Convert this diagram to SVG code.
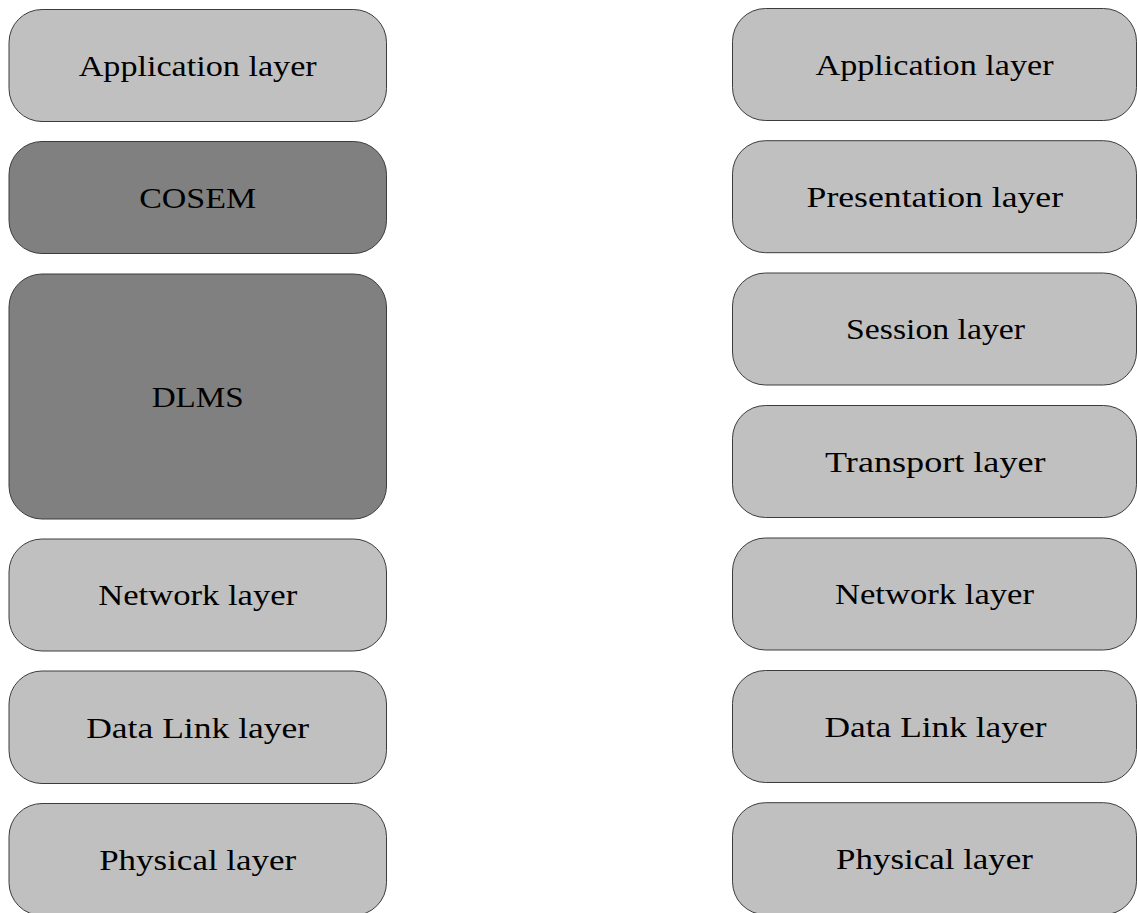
<svg xmlns="http://www.w3.org/2000/svg" width="1137" height="913" viewBox="0 0 1137 913">
  <style>
    .box { stroke: #3c3c3c; stroke-width: 1; }
    .light { fill: #c0c0c0; }
    .dark { fill: #808080; }
    .label { font-family: "Liberation Serif", "DejaVu Serif", serif; font-size: 30px; fill: #000; text-anchor: middle; }
  </style>
  <rect width="1137" height="913" fill="#ffffff"/>

  <!-- DLMS/COSEM stack (left column) -->
  <g id="left-application">
    <rect class="box light" x="9" y="9.5" width="377.5" height="112" rx="33" ry="33"/>
    <text class="label" x="197.7" y="76" textLength="238" lengthAdjust="spacingAndGlyphs">Application layer</text>
  </g>
  <g id="left-cosem">
    <rect class="box dark" x="9" y="141.5" width="377.5" height="112" rx="33" ry="33"/>
    <text class="label" x="197.7" y="208" textLength="117" lengthAdjust="spacingAndGlyphs">COSEM</text>
  </g>
  <g id="left-dlms">
    <rect class="box dark" x="9" y="274" width="377.5" height="245" rx="33" ry="33"/>
    <text class="label" x="197.7" y="407" textLength="92" lengthAdjust="spacingAndGlyphs">DLMS</text>
  </g>
  <g id="left-network">
    <rect class="box light" x="9" y="539" width="377.5" height="112" rx="33" ry="33"/>
    <text class="label" x="197.7" y="605" textLength="199" lengthAdjust="spacingAndGlyphs">Network layer</text>
  </g>
  <g id="left-datalink">
    <rect class="box light" x="9" y="671" width="377.5" height="112.5" rx="33" ry="33"/>
    <text class="label" x="197.7" y="737.5" textLength="223" lengthAdjust="spacingAndGlyphs">Data Link layer</text>
  </g>
  <g id="left-physical">
    <rect class="box light" x="9" y="803.5" width="377.5" height="112" rx="33" ry="33"/>
    <text class="label" x="197.7" y="869.5" textLength="197" lengthAdjust="spacingAndGlyphs">Physical layer</text>
  </g>

  <!-- OSI reference model (right column) -->
  <g id="right-application">
    <rect class="box light" x="732.5" y="8.5" width="404" height="112" rx="33" ry="33"/>
    <text class="label" x="934.5" y="75" textLength="238" lengthAdjust="spacingAndGlyphs">Application layer</text>
  </g>
  <g id="right-presentation">
    <rect class="box light" x="732.5" y="140.7" width="404" height="112" rx="33" ry="33"/>
    <text class="label" x="934.8" y="207" textLength="256.5" lengthAdjust="spacingAndGlyphs">Presentation layer</text>
  </g>
  <g id="right-session">
    <rect class="box light" x="732.5" y="273" width="404" height="112" rx="33" ry="33"/>
    <text class="label" x="935.5" y="339" textLength="179" lengthAdjust="spacingAndGlyphs">Session layer</text>
  </g>
  <g id="right-transport">
    <rect class="box light" x="732.5" y="405.5" width="404" height="112" rx="33" ry="33"/>
    <text class="label" x="935.3" y="471.5" textLength="220.5" lengthAdjust="spacingAndGlyphs">Transport layer</text>
  </g>
  <g id="right-network">
    <rect class="box light" x="732.5" y="538" width="404" height="112" rx="33" ry="33"/>
    <text class="label" x="934.5" y="604" textLength="199" lengthAdjust="spacingAndGlyphs">Network layer</text>
  </g>
  <g id="right-datalink">
    <rect class="box light" x="732.5" y="670.5" width="404" height="112" rx="33" ry="33"/>
    <text class="label" x="935.5" y="736.5" textLength="222" lengthAdjust="spacingAndGlyphs">Data Link layer</text>
  </g>
  <g id="right-physical">
    <rect class="box light" x="732.5" y="802.7" width="404" height="112" rx="33" ry="33"/>
    <text class="label" x="934.5" y="869" textLength="197" lengthAdjust="spacingAndGlyphs">Physical layer</text>
  </g>

  <!-- no connectors between the two stacks -->
  <g id="connectors"/>
</svg>
